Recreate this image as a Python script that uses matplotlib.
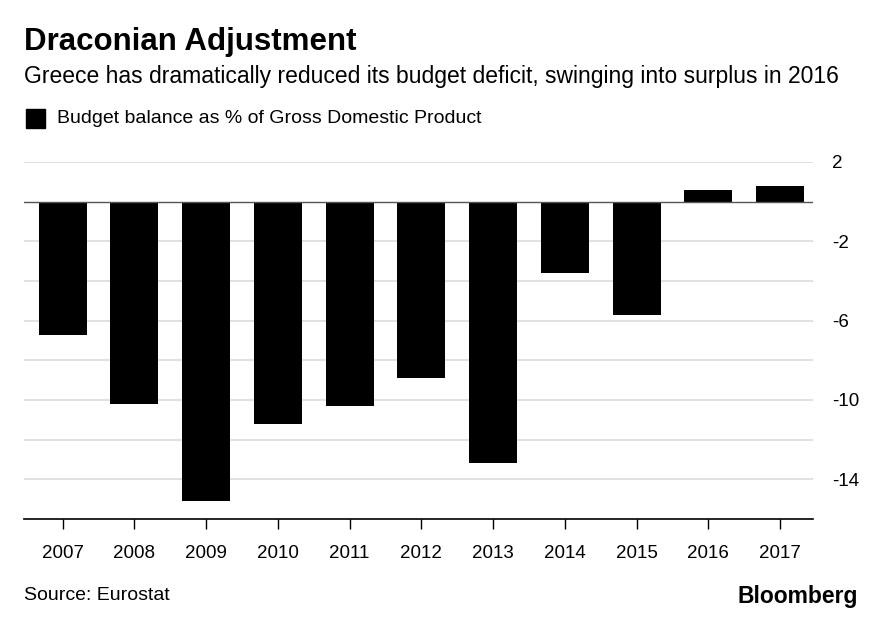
import numpy as np
import matplotlib
matplotlib.use("Agg")
import matplotlib.pyplot as plt

years = ["2007", "2008", "2009", "2010", "2011", "2012", "2013", "2014", "2015", "2016", "2017"]
balance = [-6.7, -10.2, -15.1, -11.2, -10.3, -8.9, -13.2, -3.6, -5.7, 0.6, 0.8]
ytick_vals = [2, -2, -6, -10, -14]
grid_vals = [2, -2, -4, -6, -8, -10, -12, -14]

plt.rcParams['font.family'] = ['Liberation Sans', 'DejaVu Sans']

fig = plt.figure(figsize=(8.8, 6.18), dpi=100)
ax = fig.add_axes([24/880, 1-519/618, (813-24)/880, (519-162)/618])

x = np.arange(len(years))
ax.bar(x, balance, width=0.67, color="black", zorder=3)

for g in grid_vals:
    ax.axhline(g, color="#dcdcdc", lw=1.2, zorder=1)
ax.axhline(0, color="#555555", lw=1.0, zorder=4)

ax.set_xlim(-0.54, len(years) - 0.54)
ax.set_ylim(-16, 2)
ax.set_xticks(x)
ax.set_xticklabels(years, fontsize=13.5)
ax.set_yticks(ytick_vals)
ax.set_yticklabels([str(v) for v in ytick_vals], fontsize=13.5)
ax.yaxis.tick_right()
ax.tick_params(axis="y", length=0, pad=14)
ax.tick_params(axis="x", length=7, width=1, color="black", pad=12, direction="out")
for s in ["top", "left", "right"]:
    ax.spines[s].set_visible(False)
ax.spines["bottom"].set_linewidth(1.2)

fig.text(24/880, 1-42/618, "Draconian Adjustment", fontsize=22.5, fontweight="bold", va="center")
fig.text(24/880, 1-76/618, "Greece has dramatically reduced its budget deficit, swinging into surplus in 2016",
         fontsize=16.5, va="center")
fig.patches.append(plt.Rectangle((26/880, 1-128/618), 19/880, 19/618, transform=fig.transFigure,
                                 color="black", figure=fig))
fig.text(57/880, 1-118/618, "Budget balance as % of Gross Domestic Product", fontsize=14, va="center")
fig.text(24/880, 1-596/618, "Source: Eurostat", fontsize=14, va="center")
fig.text(858/880, 1-596/618, "Bloomberg", fontsize=16.5, fontweight="bold", va="center", ha="right")

fig.savefig("out.png", dpi=100)
